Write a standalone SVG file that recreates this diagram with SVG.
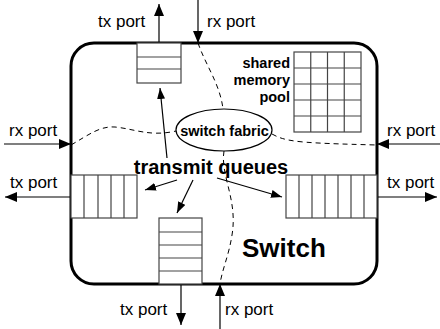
<svg xmlns="http://www.w3.org/2000/svg" width="440" height="329" viewBox="0 0 440 329">
  <style>
    .label { font-family: "Liberation Sans", Arial, sans-serif; font-size: 17px; fill: #000; }
    .bold { font-family: "Liberation Sans", Arial, sans-serif; font-weight: bold; fill: #000; }
    .cell { fill: #fff; stroke: #444; stroke-width: 1.2; }
    .grid { fill: none; stroke: #444; stroke-width: 1.2; }
    .arrow { fill: none; stroke: #000; stroke-width: 1.2; }
    .dash { fill: none; stroke: #000; stroke-width: 1; stroke-dasharray: 5 4; }
  </style>
  <defs>
    <marker id="head" markerUnits="userSpaceOnUse" markerWidth="13" markerHeight="10" refX="12" refY="5" orient="auto">
      <path d="M0,0 L12,5 L0,10 Z" fill="#000"/>
    </marker>
    <marker id="small" markerUnits="userSpaceOnUse" markerWidth="12" markerHeight="8" refX="11" refY="4" orient="auto">
      <path d="M0,0 L11,4 L0,8 Z" fill="#000"/>
    </marker>
  </defs>

  <rect width="440" height="329" fill="#fff"/>

  <!-- switch enclosure -->
  <g id="switch">
    <rect x="71" y="43" width="306" height="241" rx="23" ry="23" fill="none" stroke="#000" stroke-width="3"/>
    <text class="bold" x="242" y="257" font-size="26">Switch</text>
  </g>

  <!-- packet paths and arrows -->
  <g id="connectors">
    <path class="dash" d="M198,43 C206,66 220,84 223,109"/>
    <path class="dash" d="M71,145 C90,134 100,126 115,127 C135,129 150,137 176,131"/>
    <path class="dash" d="M272,134 C286,142 300,143 377,145"/>
    <path class="dash" d="M224,151 C220,175 238,200 232,235 C229,255 222,270 220,284"/>

    <line class="arrow" x1="159" y1="43" x2="159" y2="4" marker-end="url(#head)"/>
    <line class="arrow" x1="198" y1="0" x2="198" y2="43" marker-end="url(#head)"/>
    <line class="arrow" x1="4" y1="144" x2="71" y2="144" marker-end="url(#head)"/>
    <line class="arrow" x1="440" y1="144" x2="377" y2="144" marker-end="url(#head)"/>
    <line class="arrow" x1="71" y1="197" x2="5" y2="197" marker-end="url(#head)"/>
    <line class="arrow" x1="377" y1="197" x2="437" y2="197" marker-end="url(#head)"/>
    <line class="arrow" x1="181" y1="284" x2="181" y2="325" marker-end="url(#head)"/>
    <line class="arrow" x1="220" y1="329" x2="220" y2="284" marker-end="url(#head)"/>

    <line class="arrow" x1="167" y1="158" x2="160" y2="88" marker-end="url(#small)"/>
    <line class="arrow" x1="177" y1="180" x2="145" y2="190" marker-end="url(#small)"/>
    <line class="arrow" x1="193" y1="180" x2="177" y2="213" marker-end="url(#small)"/>
    <line class="arrow" x1="217" y1="178" x2="282" y2="197" marker-end="url(#small)"/>
  </g>

  <!-- switch fabric -->
  <g id="fabric">
    <ellipse cx="224" cy="130" rx="48" ry="21" fill="#fff" stroke="#000" stroke-width="1.2"/>
    <text class="bold" x="224.5" y="136" font-size="14.5" text-anchor="middle">switch fabric</text>
  </g>

  <!-- shared memory pool -->
  <g id="memory-pool">
    <rect class="grid" x="294" y="52" width="67" height="80"/>
    <path class="grid" d="M310.75,52 V132 M327.5,52 V132 M344.25,52 V132 M294,68 H361 M294,84 H361 M294,100 H361 M294,116 H361"/>
    <text class="bold" x="290" y="68" font-size="14.5" text-anchor="end">shared</text>
    <text class="bold" x="290" y="85" font-size="14.5" text-anchor="end">memory</text>
    <text class="bold" x="290" y="102" font-size="14.5" text-anchor="end">pool</text>
  </g>

  <!-- transmit queues -->
  <g id="queue-top">
    <rect class="cell" x="137" y="43" width="44" height="40"/>
    <path class="grid" d="M137,57 H181 M137,69 H181"/>
  </g>
  <g id="queue-left">
    <rect class="cell" x="71" y="175" width="66" height="43"/>
    <path class="grid" d="M84,175 V218 M98,175 V218 M111,175 V218 M124,175 V218"/>
  </g>
  <g id="queue-bottom">
    <rect class="cell" x="159" y="218" width="43" height="66"/>
    <path class="grid" d="M159,232 H202 M159,245 H202 M159,258 H202 M159,271 H202"/>
  </g>
  <g id="queue-right">
    <rect class="cell" x="286" y="175" width="91" height="43"/>
    <path class="grid" d="M299,175 V218 M312,175 V218 M325,175 V218 M338,175 V218 M351,175 V218 M364,175 V218"/>
  </g>
  <g id="queues-label">
    <text class="bold" x="211" y="174" font-size="20" text-anchor="middle">transmit queues</text>
  </g>

  <!-- port labels -->
  <g id="ports">
    <text class="label" x="98" y="27">tx port</text>
    <text class="label" x="207" y="27">rx port</text>
    <text class="label" x="9" y="136">rx port</text>
    <text class="label" x="387" y="136">rx port</text>
    <text class="label" x="10" y="188">tx port</text>
    <text class="label" x="387" y="188">tx port</text>
    <text class="label" x="120" y="315">tx port</text>
    <text class="label" x="225" y="315">rx port</text>
  </g>
</svg>
